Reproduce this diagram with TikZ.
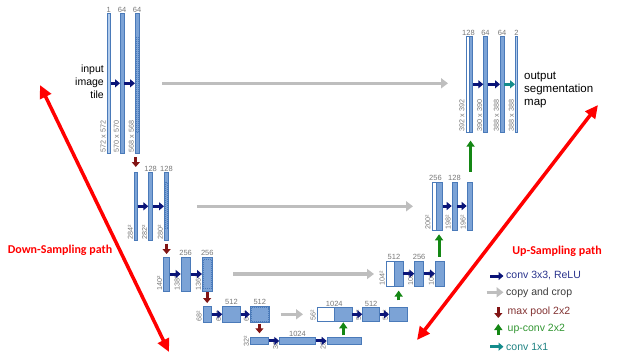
\documentclass[tikz,border=0pt]{standalone}
\usepackage{fontspec}
\setmainfont{Liberation Sans}
\newfontfamily\pathfont{Carlito}
\usetikzlibrary{arrows.meta, positioning}
\definecolor{barFill}{RGB}{124,163,214}
\definecolor{barLight}{RGB}{178,204,236}
\definecolor{barLine}{RGB}{74,122,185}
\definecolor{lblGray}{RGB}{120,120,120}
\definecolor{convBlue}{RGB}{10,20,120}
\definecolor{copyGray}{RGB}{190,190,190}
\definecolor{poolRed}{RGB}{130,20,20}
\definecolor{upGreen}{RGB}{20,135,20}
\definecolor{outTeal}{RGB}{20,140,140}
\definecolor{convTxt}{RGB}{40,50,140}
\definecolor{copyTxt}{RGB}{60,60,60}
\definecolor{poolTxt}{RGB}{130,50,50}
\definecolor{upTxt}{RGB}{50,150,50}
\definecolor{outTxt}{RGB}{30,130,130}
\tikzset{
  mapBar/.style={rectangle, draw=barLine, fill=barFill, line width=0.6pt, inner sep=0pt, anchor=north west},
  mapLight/.style={mapBar, fill=barLight},
  mapWhite/.style={mapBar, fill=white},
  cropLine/.style={draw=barLine, line width=0.5pt, dash pattern=on 1pt off 1pt},
  chanLbl/.style={font=\fontsize{7.5}{8}\selectfont, text=lblGray, inner sep=0.6pt},
  sizeLbl/.style={font=\fontsize{7.2}{8}\selectfont, text=lblGray, rotate=90, inner sep=0.8pt},
  convArr/.style={draw=convBlue, line width=3pt, -{Triangle[length=5pt, width=8pt]}},
  copyArr/.style={draw=copyGray, line width=3.5pt, -{Triangle[length=7pt, width=10pt]}},
  poolArr/.style={draw=poolRed, line width=3pt, -{Triangle[length=5pt, width=8pt]}},
  upArr/.style={draw=upGreen, line width=3pt, -{Triangle[length=6pt, width=8pt]}},
  outArr/.style={draw=outTeal, line width=3pt, -{Triangle[length=5pt, width=8pt]}},
  pathArr/.style={draw=red, line width=3.5pt, {Triangle[length=13pt, width=12pt]}-{Triangle[length=13pt, width=12pt]}},
  pathTxt/.style={text=red, font=\pathfont\bfseries\fontsize{12}{14}\selectfont},
  legTxt/.style={font=\fontsize{10.5}{12}\selectfont, anchor=west, inner sep=1pt},
  ioTxt/.style={font=\fontsize{10.5}{13}\selectfont, inner sep=0pt},
}

\begin{document}
\begin{tikzpicture}[x=1pt, y=-1pt]
\useasboundingbox (0,0) rectangle (640,359);
% contracting path
\node (d1a) [mapLight, minimum width=3.3pt, minimum height=140pt] at (106.7,13) {};
\node (d1b) [mapBar, minimum width=3.5pt, minimum height=140pt] at (120,13) {};
\node (d1c) [mapBar, minimum width=3.5pt, minimum height=140pt] at (135,13) {};
\node (d2a) [mapBar, minimum width=3pt, minimum height=68pt] at (134,172) {};
\node (d2b) [mapBar, minimum width=4pt, minimum height=68pt] at (148.3,172) {};
\node (d2c) [mapBar, minimum width=4.3pt, minimum height=68pt] at (164,172) {};
\node (d3a) [mapBar, minimum width=6pt, minimum height=34pt] at (163.3,256.7) {};
\node (d3b) [mapBar, minimum width=9.3pt, minimum height=34pt] at (180.7,256.7) {};
\node (d3c) [mapBar, minimum width=10pt, minimum height=34pt] at (202,256.7) {};
\node (d4a) [mapBar, minimum width=8.3pt, minimum height=16.6pt] at (202.7,305.7) {};
\node (d4b) [mapBar, minimum width=17.7pt, minimum height=16.6pt] at (222.3,305.7) {};
\node (d4c) [mapBar, minimum width=19pt, minimum height=16.6pt] at (250,305.7) {};
\node (b5a) [mapBar, minimum width=18.3pt, minimum height=6.7pt] at (250,337.3) {};
\node (b5b) [mapBar, minimum width=35.7pt, minimum height=6.7pt] at (279.3,337.3) {};
\node (b5c) [mapBar, minimum width=34pt, minimum height=6.7pt] at (326.7,337.3) {};
% expanding path
\node (u4w) [mapWhite, minimum width=17.6pt, minimum height=13.4pt] at (316.7,307.3) {};
\node (u4a) [mapBar, minimum width=17.4pt, minimum height=13.4pt] at (334.3,307.3) {};
\node (u4b) [mapBar, minimum width=17pt, minimum height=13.4pt] at (362.3,307.3) {};
\node (u4c) [mapBar, minimum width=17.7pt, minimum height=13.4pt] at (389,307.3) {};
\node (u3w) [mapWhite, minimum width=8.3pt, minimum height=25.3pt] at (385.7,260.7) {};
\node (u3a) [mapBar, minimum width=8.7pt, minimum height=25.3pt] at (394,260.7) {};
\node (u3b) [mapBar, minimum width=9pt, minimum height=25.3pt] at (414.3,260.7) {};
\node (u3c) [mapBar, minimum width=9pt, minimum height=25.3pt] at (435,260.7) {};
\node (u2w) [mapWhite, minimum width=4pt, minimum height=48pt] at (431.5,181.7) {};
\node (u2a) [mapBar, minimum width=6.5pt, minimum height=48pt] at (435.5,181.7) {};
\node (u2b) [mapBar, minimum width=5pt, minimum height=48pt] at (451.7,181.7) {};
\node (u2c) [mapBar, minimum width=5pt, minimum height=48pt] at (466.7,181.7) {};
\node (u1w) [mapWhite, minimum width=3pt, minimum height=96pt] at (465.5,36) {};
\node (u1a) [mapBar, minimum width=3.5pt, minimum height=96pt] at (468.5,36) {};
\node (u1b) [mapBar, minimum width=3.7pt, minimum height=96pt] at (483.3,36) {};
\node (u1c) [mapBar, minimum width=3.7pt, minimum height=96pt] at (500,36) {};
\node (u1d) [mapLight, minimum width=2.3pt, minimum height=96pt] at (515,36) {};

\draw [cropLine] ([shift={(1.2,24)}]d1c.north west) rectangle ([shift={(-1.2,-21)}]d1c.south east);
\draw [cropLine] ([shift={(1.2,10)}]d2c.north west) rectangle ([shift={(-1.2,-12)}]d2c.south east);
\draw [cropLine] ([shift={(1.2,3)}]d3c.north west) rectangle ([shift={(-1.2,-3)}]d3c.south east);
\draw [cropLine] ([shift={(1.2,2)}]d4c.north west) rectangle ([shift={(-1.2,-1.5)}]d4c.south east);

% channel counts
\node (c1a) [chanLbl, above=0pt of d1a] {1};
\node (c1b) [chanLbl, above=0pt of d1b] {64};
\node (c1c) [chanLbl, above=0pt of d1c] {64};
\node (c2b) [chanLbl, above=0pt of d2b] {128};
\node (c2c) [chanLbl, above=0pt of d2c] {128};
\node (c3b) [chanLbl, above=0pt of d3b] {256};
\node (c3c) [chanLbl, above=0pt of d3c] {256};
\node (c4b) [chanLbl, above=0pt of d4b] {512};
\node (c4c) [chanLbl, above=0pt of d4c] {512};
\node (c5b) [chanLbl, above=0pt of b5b] {1024};
\node (e4a) [chanLbl, above=0pt of u4a.north west] {1024};
\node (e4b) [chanLbl, above=0pt of u4b] {512};
\node (e3a) [chanLbl, above=0pt of u3a.north west] {512};
\node (e3b) [chanLbl, above=0pt of u3b] {256};
\node (e2a) [chanLbl, above=0pt of u2a.north west] {256};
\node (e2b) [chanLbl, above=0pt of u2b] {128};
\node (e1a) [chanLbl, above=0pt of u1a.north west] {128};
\node (e1b) [chanLbl, above=0pt of u1b] {64};
\node (e1c) [chanLbl, above=0pt of u1c] {64};
\node (e1d) [chanLbl, above=0pt of u1d] {2};

% map sizes
\node (s1a) [sizeLbl, anchor=south west] at (d1a.south west) {572 x 572};
\node (s1b) [sizeLbl, anchor=south west] at (d1b.south west) {570 x 570};
\node (s1c) [sizeLbl, anchor=south west] at (d1c.south west) {568 x 568};
\node (s2a) [sizeLbl, anchor=south west] at (d2a.south west) {284²};
\node (s2b) [sizeLbl, anchor=south west] at (d2b.south west) {282²};
\node (s2c) [sizeLbl, anchor=south west] at (d2c.south west) {280²};
\node (s3a) [sizeLbl, anchor=south west] at (d3a.south west) {140²};
\node (s3b) [sizeLbl, anchor=south west] at (d3b.south west) {138²};
\node (s3c) [sizeLbl, anchor=south west] at (d3c.south west) {136²};
\node (s4a) [sizeLbl, anchor=south west] at (d4a.south west) {68²};
\node (s4b) [sizeLbl, anchor=south west] at (d4b.south west) {66²};
\node (s4c) [sizeLbl, anchor=south west] at (d4c.south west) {64²};
\node (s5a) [sizeLbl, anchor=south] at (b5a.west) {32²};
\node (s5b) [sizeLbl, anchor=south east] at ([yshift=-1pt]b5b.north west) {30²};
\node (s5c) [sizeLbl, anchor=south east] at ([yshift=-1pt]b5c.north west) {28²};
\node (t4w) [sizeLbl, anchor=south west] at (u4w.south west) {56²};
\node (t4b) [sizeLbl, anchor=south west] at (u4b.south west) {54²};
\node (t4c) [sizeLbl, anchor=south west] at (u4c.south west) {52²};
\node (t3w) [sizeLbl, anchor=south west] at (u3w.south west) {104²};
\node (t3b) [sizeLbl, anchor=south west] at (u3b.south west) {102²};
\node (t3c) [sizeLbl, anchor=south west] at (u3c.south west) {100²};
\node (t2w) [sizeLbl, anchor=south west] at (u2w.south west) {200²};
\node (t2b) [sizeLbl, anchor=south west] at (u2b.south west) {198²};
\node (t2c) [sizeLbl, anchor=south west] at (u2c.south west) {196²};
\node (t1w) [sizeLbl, anchor=south west] at (u1w.south west) {392 x 392};
\node (t1b) [sizeLbl, anchor=south west] at (u1b.south west) {390 x 390};
\node (t1c) [sizeLbl, anchor=south west] at (u1c.south west) {388 x 388};
\node (t1d) [sizeLbl, anchor=south west] at (u1d.south west) {388 x 388};

\node (inTxt) [ioTxt, align=right, anchor=east] at (104,82) {input\\image\\tile};
\node (outTxt) [ioTxt, align=left, anchor=west, font=\fontsize{11.5}{13}\selectfont] at (524,90) {output\\segmentation\\map};

% conv 3x3
\draw [convArr] (d1a) -- (d1b);
\draw [convArr] (d1b) -- (d1c);
\draw [convArr] (d2a) -- (d2b);
\draw [convArr] (d2b) -- (d2c);
\draw [convArr] (d3a) -- (d3b);
\draw [convArr] (d3b) -- (d3c);
\draw [convArr] (d4a) -- (d4b);
\draw [convArr] (d4b) -- (d4c);
\draw [convArr] (b5a) -- (b5b);
\draw [convArr] (b5b) -- (b5c);
\draw [convArr] (u4a) -- (u4b);
\draw [convArr] (u4b) -- (u4c);
\draw [convArr] (u3a) -- (u3b);
\draw [convArr] (u3b) -- (u3c);
\draw [convArr] (u2a) -- (u2b);
\draw [convArr] (u2b) -- (u2c);
\draw [convArr] (u1a) -- (u1b);
\draw [convArr] (u1b) -- (u1c);
\draw [outArr] (u1c) -- (u1d);

% copy and crop
\draw [copyArr, shorten <=23pt, shorten >=17.5pt] (d1c.east) -- (d1c.east -| u1w.west);
\draw [copyArr, shorten <=28pt, shorten >=18.5pt] (d2c.east) -- (d2c.east -| u2w.west);
\draw [copyArr, shorten <=20.7pt, shorten >=11.7pt] (d3c.east) -- (d3c.east -| u3w.west);
\draw [copyArr, shorten <=11pt, shorten >=13.7pt] (d4c.east) -- (d4c.east -| u4w.west);

% max pool
\draw [poolArr, shorten <=3.7pt, shorten >=5pt] (d1c.south -| d2a) -- (d2a.north);
\draw [poolArr, shorten <=3pt, shorten >=2.7pt] (d2c.south -| d3a) -- (d3a.north);
\draw [poolArr, shorten <=1pt, shorten >=2.7pt] (d3c.south -| d4a) -- (d4a.north);
\draw [poolArr, shorten <=1pt, shorten >=4pt] (d4c.south -| b5a) -- (b5a.north);

% up-conv
\draw [upArr, shorten <=2pt, shorten >=1pt] (b5c.north -| u4a) -- (u4a.south);
\draw [upArr, shorten <=7pt, shorten >=4pt] (u4c.north -| u3a) -- (u3a.south);
\draw [upArr, shorten <=4pt, shorten >=4pt] (u3c.north -| u2a) -- (u2a.south);
\draw [upArr, shorten <=10pt, shorten >=8pt] (u2c.north -| u1a) -- (u1a.south);

% sampling paths
\coordinate (dsTop) at (40,85);
\coordinate (dsBot) at (169,352);
\coordinate (usBot) at (417,340);
\coordinate (usTop) at (598,105);
\draw [pathArr] (dsTop) -- (dsBot);
\draw [pathArr] (usBot) -- (usTop);
\node (dsLbl) [pathTxt] at (60,250) {Down-Sampling path};
\node (usLbl) [pathTxt] at (557,251) {Up-Sampling path};

% legend
\node (lgConv) [legTxt, text=convTxt] at (505,276) {conv 3x3, ReLU};
\node (lgCopy) [legTxt, text=copyTxt] at (505,292.3) {copy and crop};
\node (lgPool) [legTxt, text=poolTxt] at (506.5,311.7) {max pool 2x2};
\node (lgUp) [legTxt, text=upTxt] at (506.5,329.3) {up-conv 2x2};
\node (lgOut) [legTxt, text=outTxt] at (505,346.7) {conv 1x1};
\coordinate (lgConvA) at (490,276);
\coordinate (lgCopyA) at (486.7,292.3);
\coordinate (lgPoolA) at (498.3,307);
\coordinate (lgPoolB) at (498.3,318);
\coordinate (lgUpA) at (498.3,335);
\coordinate (lgUpB) at (498.3,324);
\coordinate (lgOutA) at (490,346.7);
\draw [convArr, shorten >=1.5pt] (lgConvA) -- (lgConv.west);
\draw [copyArr, shorten >=1.5pt] (lgCopyA) -- (lgCopy.west);
\draw [poolArr] (lgPoolA) -- (lgPoolB);
\draw [upArr] (lgUpA) -- (lgUpB);
\draw [outArr, shorten >=1.5pt] (lgOutA) -- (lgOut.west);
\end{tikzpicture}
\end{document}
